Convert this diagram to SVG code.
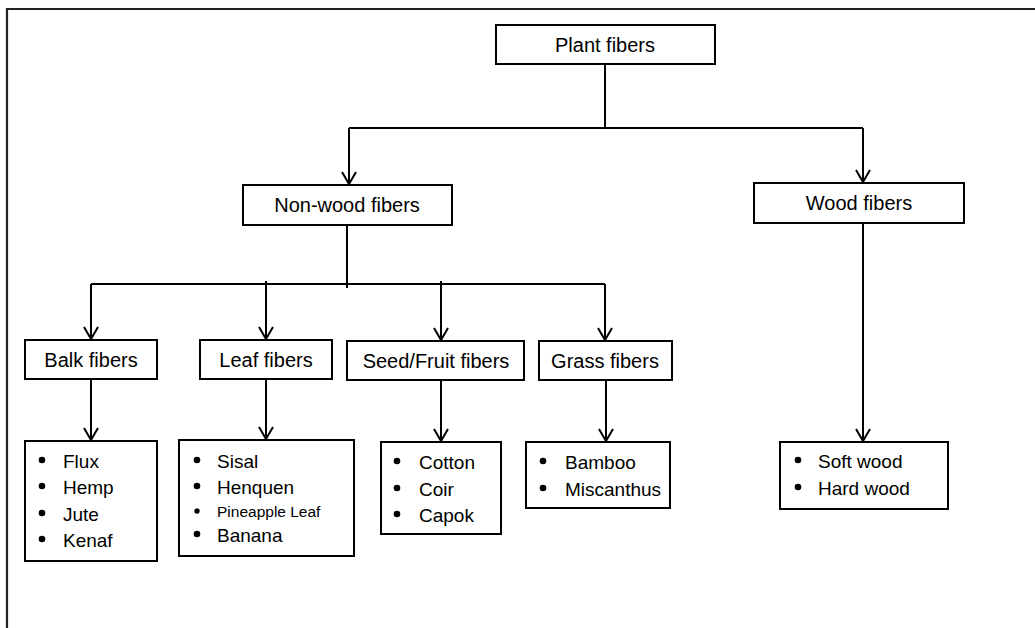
<svg xmlns="http://www.w3.org/2000/svg" width="1035" height="628" viewBox="0 0 1035 628">
  <style>
    .box { fill: #ffffff; stroke: #000000; stroke-width: 2; }
    .hdr { font-family: "Liberation Sans", Arial, sans-serif; font-size: 20px; fill: #000000; text-anchor: middle; }
    .item { font-family: "Liberation Sans", Arial, sans-serif; font-size: 19px; fill: #000000; }
    .small { font-size: 15.5px; }
    .conn { fill: none; stroke: #000000; stroke-width: 2; }
    .frame { fill: none; stroke: #222222; stroke-width: 2.2; }
    .dot { fill: #000000; }
  </style>
  <defs>
    <marker id="arrow" markerUnits="userSpaceOnUse" markerWidth="16" markerHeight="16" viewBox="0 0 16 16" refX="13" refY="8" orient="auto" overflow="visible">
      <path d="M1,1 L13,8 L1,15" fill="none" stroke="#000000" stroke-width="2"/>
    </marker>
  </defs>
  <rect x="0" y="0" width="1035" height="628" fill="#ffffff"/>
  <path class="frame" d="M7,628 V9 H1035"/>

  <g id="connectors">
    <path class="conn" d="M605,64 V128"/>
    <path class="conn" d="M349,128 H863"/>
    <path class="conn" d="M349,128 V184" marker-end="url(#arrow)"/>
    <path class="conn" d="M863,128 V182" marker-end="url(#arrow)"/>
    <path class="conn" d="M347,225 V288"/>
    <path class="conn" d="M91,284 H605"/>
    <path class="conn" d="M91,284 V339" marker-end="url(#arrow)"/>
    <path class="conn" d="M266,281 V339" marker-end="url(#arrow)"/>
    <path class="conn" d="M441,281 V340" marker-end="url(#arrow)"/>
    <path class="conn" d="M605,284 V340" marker-end="url(#arrow)"/>
    <path class="conn" d="M91,379 V440" marker-end="url(#arrow)"/>
    <path class="conn" d="M266,379 V439" marker-end="url(#arrow)"/>
    <path class="conn" d="M441,380 V441" marker-end="url(#arrow)"/>
    <path class="conn" d="M606,380 V441" marker-end="url(#arrow)"/>
    <path class="conn" d="M863,223 V441" marker-end="url(#arrow)"/>
  </g>

  <g id="plant-fibers">
    <rect class="box" x="496" y="25" width="219" height="39"/>
    <text class="hdr" x="605" y="52">Plant fibers</text>
  </g>
  <g id="non-wood-fibers">
    <rect class="box" x="243" y="185" width="209" height="40"/>
    <text class="hdr" x="347" y="212">Non-wood fibers</text>
  </g>
  <g id="wood-fibers">
    <rect class="box" x="754" y="183" width="210" height="40"/>
    <text class="hdr" x="859" y="210">Wood fibers</text>
  </g>
  <g id="balk-fibers">
    <rect class="box" x="25" y="340" width="132" height="39"/>
    <text class="hdr" x="91" y="367">Balk fibers</text>
  </g>
  <g id="leaf-fibers">
    <rect class="box" x="200" y="340" width="132" height="39"/>
    <text class="hdr" x="266" y="367">Leaf fibers</text>
  </g>
  <g id="seed-fruit-fibers">
    <rect class="box" x="347" y="341" width="177" height="39"/>
    <text class="hdr" x="436" y="368">Seed/Fruit fibers</text>
  </g>
  <g id="grass-fibers">
    <rect class="box" x="539" y="341" width="133" height="39"/>
    <text class="hdr" x="605" y="368">Grass fibers</text>
  </g>

  <g id="balk-list">
    <rect class="box" x="25" y="441" width="132" height="120"/>
    <circle class="dot" cx="42" cy="460" r="3.3"/>
    <text class="item" x="63" y="468">Flux</text>
    <circle class="dot" cx="42" cy="486" r="3.3"/>
    <text class="item" x="63" y="494">Hemp</text>
    <circle class="dot" cx="42" cy="513" r="3.3"/>
    <text class="item" x="63" y="521">Jute</text>
    <circle class="dot" cx="42" cy="539" r="3.3"/>
    <text class="item" x="63" y="547">Kenaf</text>
  </g>
  <g id="leaf-list">
    <rect class="box" x="179" y="440" width="175" height="116"/>
    <circle class="dot" cx="197" cy="460" r="3.3"/>
    <text class="item" x="217" y="468">Sisal</text>
    <circle class="dot" cx="197" cy="486" r="3.3"/>
    <text class="item" x="217" y="494">Henquen</text>
    <circle class="dot" cx="197" cy="511" r="2.7"/>
    <text class="item small" x="217" y="517">Pineapple Leaf</text>
    <circle class="dot" cx="197" cy="534" r="3.3"/>
    <text class="item" x="217" y="542">Banana</text>
  </g>
  <g id="seed-list">
    <rect class="box" x="381" y="442" width="120" height="92"/>
    <circle class="dot" cx="397" cy="461" r="3.3"/>
    <text class="item" x="419" y="469">Cotton</text>
    <circle class="dot" cx="397" cy="488" r="3.3"/>
    <text class="item" x="419" y="496">Coir</text>
    <circle class="dot" cx="397" cy="514" r="3.3"/>
    <text class="item" x="419" y="522">Capok</text>
  </g>
  <g id="grass-list">
    <rect class="box" x="526" y="442" width="144" height="66"/>
    <circle class="dot" cx="543" cy="461" r="3.3"/>
    <text class="item" x="565" y="469">Bamboo</text>
    <circle class="dot" cx="543" cy="488" r="3.3"/>
    <text class="item" x="565" y="496">Miscanthus</text>
  </g>
  <g id="wood-list">
    <rect class="box" x="780" y="442" width="168" height="67"/>
    <circle class="dot" cx="798" cy="460" r="3.3"/>
    <text class="item" x="818" y="468">Soft wood</text>
    <circle class="dot" cx="798" cy="487" r="3.3"/>
    <text class="item" x="818" y="495">Hard wood</text>
  </g>
</svg>
